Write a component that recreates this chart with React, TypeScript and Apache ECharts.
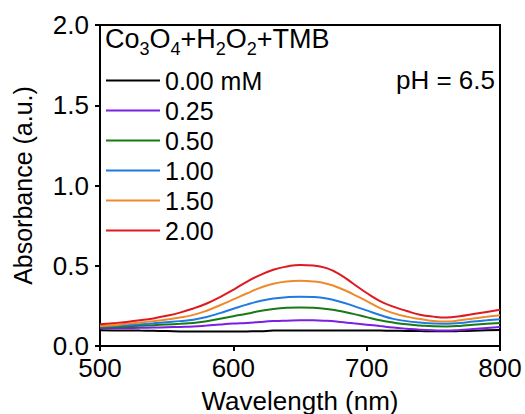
import React, { useEffect, useRef } from "react";
import * as echarts from "echarts";

const wavelengths = [500, 510, 520, 530, 540, 550, 560, 570, 580, 590, 600, 610, 620, 630, 640, 650, 660, 670, 680, 690, 700, 710, 720, 730, 740, 750, 760, 770, 780, 790, 800];

const conc000 = [0.098, 0.097, 0.097, 0.096, 0.095, 0.093, 0.091, 0.090, 0.090, 0.090, 0.090, 0.091, 0.092, 0.096, 0.097, 0.097, 0.097, 0.097, 0.097, 0.097, 0.097, 0.096, 0.095, 0.094, 0.093, 0.092, 0.092, 0.093, 0.095, 0.098, 0.100];
const conc025 = [0.110, 0.111, 0.112, 0.113, 0.115, 0.117, 0.119, 0.121, 0.127, 0.134, 0.140, 0.144, 0.150, 0.155, 0.158, 0.160, 0.160, 0.157, 0.150, 0.141, 0.133, 0.124, 0.115, 0.108, 0.102, 0.098, 0.096, 0.100, 0.106, 0.112, 0.118];
const conc050 = [0.115, 0.118, 0.122, 0.126, 0.130, 0.134, 0.138, 0.143, 0.154, 0.170, 0.186, 0.201, 0.218, 0.231, 0.238, 0.240, 0.238, 0.231, 0.218, 0.200, 0.180, 0.160, 0.146, 0.135, 0.128, 0.123, 0.122, 0.125, 0.132, 0.138, 0.144];
const conc100 = [0.120, 0.124, 0.130, 0.135, 0.141, 0.148, 0.155, 0.164, 0.181, 0.205, 0.232, 0.258, 0.280, 0.296, 0.304, 0.307, 0.305, 0.296, 0.276, 0.250, 0.222, 0.193, 0.169, 0.155, 0.146, 0.140, 0.139, 0.143, 0.152, 0.160, 0.167];
const conc150 = [0.125, 0.130, 0.138, 0.146, 0.155, 0.165, 0.177, 0.194, 0.220, 0.254, 0.290, 0.327, 0.362, 0.388, 0.402, 0.406, 0.402, 0.388, 0.360, 0.322, 0.280, 0.236, 0.205, 0.183, 0.168, 0.156, 0.152, 0.160, 0.172, 0.182, 0.192];
const conc200 = [0.135, 0.142, 0.150, 0.160, 0.172, 0.188, 0.208, 0.234, 0.265, 0.305, 0.350, 0.400, 0.442, 0.475, 0.495, 0.505, 0.502, 0.485, 0.445, 0.388, 0.330, 0.280, 0.245, 0.218, 0.195, 0.183, 0.178, 0.186, 0.199, 0.212, 0.226];

const seriesNames = ["0.00 mM", "0.25", "0.50", "1.00", "1.50", "2.00"];
const seriesData = [conc000, conc025, conc050, conc100, conc150, conc200];
const seriesColors = ["#000000", "#7B1FE0", "#177A17", "#1F7BE0", "#EE8A2A", "#DD1A1F"];

const xTicks = [500, 600, 700, 800];
const yTicks = [0, 0.5, 1.0, 1.5, 2.0];

const FONT = "'Liberation Sans', Arial, sans-serif";

export default function App() {
  const ref = useRef<HTMLDivElement>(null);
  useEffect(() => {
    if (!ref.current) return;
    const chart = echarts.init(ref.current, undefined, { renderer: "svg" });
    chart.setOption({
      animation: false,
      backgroundColor: "#ffffff",
      textStyle: { fontFamily: FONT, color: "#000" },
      grid: {
        left: 100,
        top: 25,
        width: 400,
        height: 321,
        containLabel: false,
        outerBoundsMode: "none",
        show: true,
        borderColor: "#000",
        borderWidth: 2,
        backgroundColor: "transparent",
      },
      legend: {
        orient: "vertical",
        left: 106,
        top: 68,
        padding: 0,
        itemGap: 5,
        itemWidth: 54,
        itemHeight: 2,
        icon: "rect",
        data: seriesNames,
        textStyle: { fontFamily: FONT, fontSize: 25, lineHeight: 24, color: "#000" },
      },
      xAxis: {
        type: "value",
        min: xTicks[0],
        max: xTicks[xTicks.length - 1],
        interval: 100,
        name: "Wavelength (nm)",
        nameLocation: "middle",
        nameGap: 42,
        nameTextStyle: { fontFamily: FONT, fontSize: 26, color: "#000" },
        axisLine: { lineStyle: { color: "#000", width: 2 } },
        axisTick: { show: true, length: 5, lineStyle: { color: "#000", width: 2 } },
        axisLabel: { fontFamily: FONT, fontSize: 26, color: "#000", margin: 9 },
        splitLine: { show: false },
      },
      yAxis: {
        type: "value",
        min: yTicks[0],
        max: yTicks[yTicks.length - 1],
        interval: 0.5,
        name: "Absorbance (a.u.)",
        nameLocation: "middle",
        nameGap: 65,
        nameTextStyle: { fontFamily: FONT, fontSize: 25, color: "#000" },
        axisLine: { show: true, lineStyle: { color: "#000", width: 2 } },
        axisTick: { show: true, length: 5, lineStyle: { color: "#000", width: 2 } },
        axisLabel: {
          fontFamily: FONT,
          fontSize: 26,
          color: "#000",
          margin: 11,
          formatter: (v: number) => v.toFixed(1),
        },
        splitLine: { show: false },
      },
      graphic: [
        {
          type: "text",
          left: 105,
          top: 25,
          style: {
            text: "{n|Co}{s|3}{n|O}{s|4}{n|+H}{s|2}{n|O}{s|2}{n|+TMB}",
            rich: {
              n: { fontFamily: FONT, fontSize: 27, lineHeight: 38, verticalAlign: "middle", fill: "#000" },
              s: { fontFamily: FONT, fontSize: 18, lineHeight: 17, verticalAlign: "bottom", fill: "#000" },
            },
          },
        },
        {
          type: "text",
          x: 495,
          y: 80,
          style: {
            text: "pH = 6.5",
            fontFamily: FONT,
            fontSize: 26,
            fill: "#000",
            textAlign: "right",
            textVerticalAlign: "middle",
          },
        },
      ],
      series: seriesNames.map((name, i) => ({
        name,
        type: "line",
        smooth: true,
        showSymbol: false,
        symbol: "none",
        color: seriesColors[i],
        lineStyle: { color: seriesColors[i], width: 2 },
        data: wavelengths.map((w, j) => [w, seriesData[i][j]]),
      })),
    });
    return () => chart.dispose();
  }, []);
  return <div ref={ref} style={{ position: "fixed", left: 0, top: 0, width: 525, height: 414 }} />;
}
